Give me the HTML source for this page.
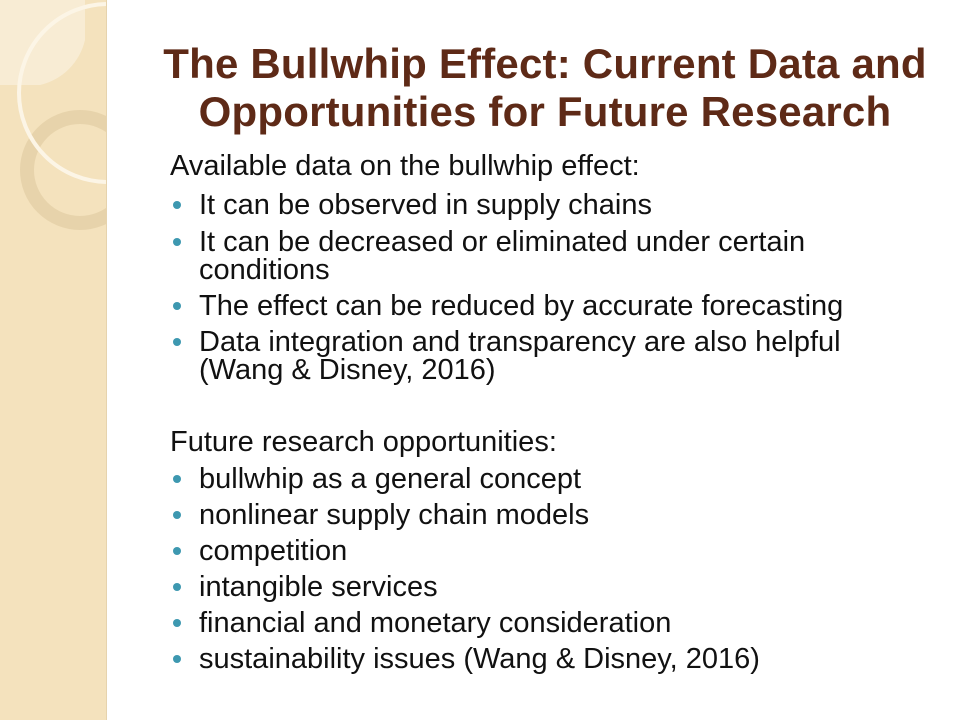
<!DOCTYPE html>
<html><head><meta charset="utf-8"><style>
body{margin:0;width:960px;height:720px;background:#fff;position:relative;overflow:hidden;font-family:"Liberation Sans",sans-serif}
#side{position:absolute;left:0;top:0;width:106px;height:720px;background:#f4e2bd;border-right:1px solid #e6d3ad}
h1{position:absolute;left:100px;width:890px;top:40px;margin:0;text-align:center;font-size:42px;line-height:48px;font-weight:bold;color:#5e2a17;letter-spacing:0.2px}
.t{position:absolute;left:170px;font-size:29px;line-height:28px;color:#111;white-space:nowrap}
.b{left:199px}
.b::before{content:"";position:absolute;left:-26px;top:10px;width:8px;height:8px;border-radius:50%;background:#3d98b0}
</style></head><body>
<div id="side">
<svg width="106" height="720">
<path d="M0 0 L85 0 L85 40 A60 60 0 0 1 40 85 L0 85Z" fill="#f8ecd4"/>
<circle cx="80" cy="170" r="53" fill="none" stroke="#e6d2a9" stroke-width="14" opacity="0.9"/>
<circle cx="108" cy="93" r="89" fill="none" stroke="#fcf5e6" stroke-width="4"/>
</svg></div>
<h1>The Bullwhip Effect: Current Data and<br>Opportunities for Future Research</h1>
<div class="t" style="top:152px">Available data on the bullwhip effect:</div>
<div class="t b" style="top:191px">It can be observed in supply chains</div>
<div class="t b" style="top:228px">It can be decreased or eliminated under certain<br>conditions</div>
<div class="t b" style="top:292px">The effect can be reduced by accurate forecasting</div>
<div class="t b" style="top:328px">Data integration and transparency are also helpful<br>(Wang &amp; Disney, 2016)</div>
<div class="t" style="top:428px">Future research opportunities:</div>
<div class="t b" style="top:465px">bullwhip as a general concept</div>
<div class="t b" style="top:501px">nonlinear supply chain models</div>
<div class="t b" style="top:537px">competition</div>
<div class="t b" style="top:573px">intangible services</div>
<div class="t b" style="top:609px">financial and monetary consideration</div>
<div class="t b" style="top:645px">sustainability issues (Wang &amp; Disney, 2016)</div>
</body></html>
